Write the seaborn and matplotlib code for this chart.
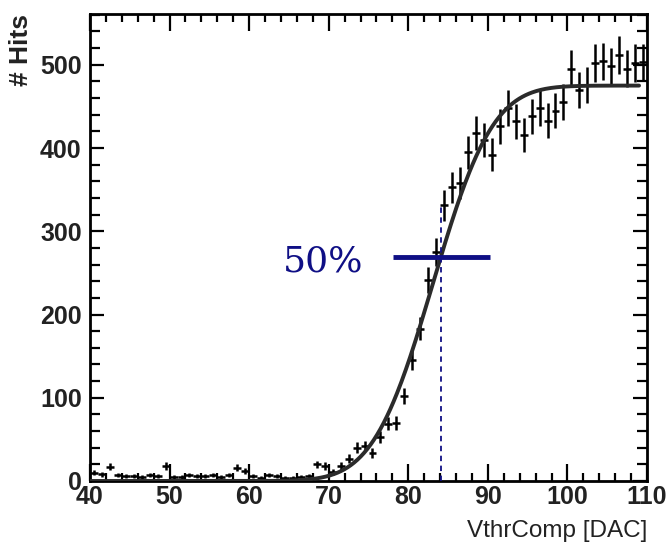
import math
import numpy as np
import matplotlib
matplotlib.use("Agg")
import matplotlib.pyplot as plt
from matplotlib.ticker import MultipleLocator
import seaborn as sns

# S-curve scan: hits per VthrComp DAC setting (one bin per DAC unit)
dac_bins = list(range(40, 110))
hits = [10, 8, 17, 7, 6, 6, 5, 7, 6, 18,
        5, 5, 7, 6, 6, 7, 5, 7, 16, 12,
        6, 4, 7, 6, 4, 4, 5, 6, 20, 18,
        11, 18, 27, 40, 42, 34, 53, 69, 70, 102,
        145, 183, 241, 275, 331, 353, 358, 395, 418, 410,
        392, 426, 448, 432, 416, 438, 448, 433, 445, 455,
        495, 470, 476, 502, 504, 498, 512, 495, 502, 503]

# error-function fit parameters
fit_plateau = 475.0
fit_mean = 83.1
fit_sigma = 5.9
fit_range = (40.0, 109.0)

# 50 % threshold marker
threshold_dac = 84.1
threshold_label = "50%"
marker_span = (78.1, 90.3)
dashed_top = 330.0

sns.set_theme(style="ticks")
plt.rcParams["font.family"] = ["Liberation Sans", "DejaVu Sans"]

W, H = 669, 549
fig = plt.figure(figsize=(W / 100, H / 100), dpi=100)
ax = fig.add_axes([90 / W, 1 - 481 / H, (647 - 90) / W, (481 - 14) / H])

centers = np.array(dac_bins, dtype=float) + 0.5
counts = np.array(hits, dtype=float)
ax.errorbar(centers, counts, xerr=0.5, yerr=np.sqrt(counts), fmt="none",
            ecolor="black", elinewidth=1.8, capsize=0, zorder=3)

erf = np.vectorize(math.erf)


def scurve(x):
    return fit_plateau * 0.5 * (1 + erf((x - fit_mean) / (fit_sigma * math.sqrt(2))))


xs = np.linspace(fit_range[0], fit_range[1], 500)
sns.lineplot(x=xs, y=scurve(xs), color="#2b2b2b", lw=2.8, ax=ax, zorder=4)

navy = "#0f0f85"
y_half = float(scurve(threshold_dac))
ax.plot([threshold_dac, threshold_dac], [0, dashed_top], color=navy,
        lw=1.3, ls=(0, (3, 2.5)), zorder=5)
ax.plot(list(marker_span), [y_half, y_half], color=navy, lw=3.5,
        solid_capstyle="butt", zorder=6)
ax.text(74.4, y_half - 6, threshold_label, color=navy, fontsize=26,
        family=["DejaVu Serif"], ha="right", va="center")

ax.set_xlim(40, 110)
ax.set_ylim(0, 561)
ax.xaxis.set_major_locator(MultipleLocator(10))
ax.xaxis.set_minor_locator(MultipleLocator(2))
ax.yaxis.set_major_locator(MultipleLocator(100))
ax.yaxis.set_minor_locator(MultipleLocator(20))

ax.tick_params(axis="both", which="both", direction="in", top=True,
               right=True, colors="black", width=1.6)
ax.tick_params(axis="x", which="major", length=12, pad=3)
ax.tick_params(axis="x", which="minor", length=6)
ax.tick_params(axis="y", which="major", length=10, pad=6)
ax.tick_params(axis="y", which="minor", length=7)
for lab in ax.get_xticklabels() + ax.get_yticklabels():
    lab.set_fontsize(18)
    lab.set_fontweight("bold")
    lab.set_color("#222222")

for sp in ax.spines.values():
    sp.set_linewidth(2.0)
    sp.set_color("black")

ax.set_xlabel("VthrComp [DAC]", fontsize=17.5, loc="right", labelpad=8,
              color="#222222")
ax.set_ylabel("# Hits", fontsize=19, fontweight="bold", loc="top",
              labelpad=5, color="#222222")

fig.savefig("out.png", dpi=100)
